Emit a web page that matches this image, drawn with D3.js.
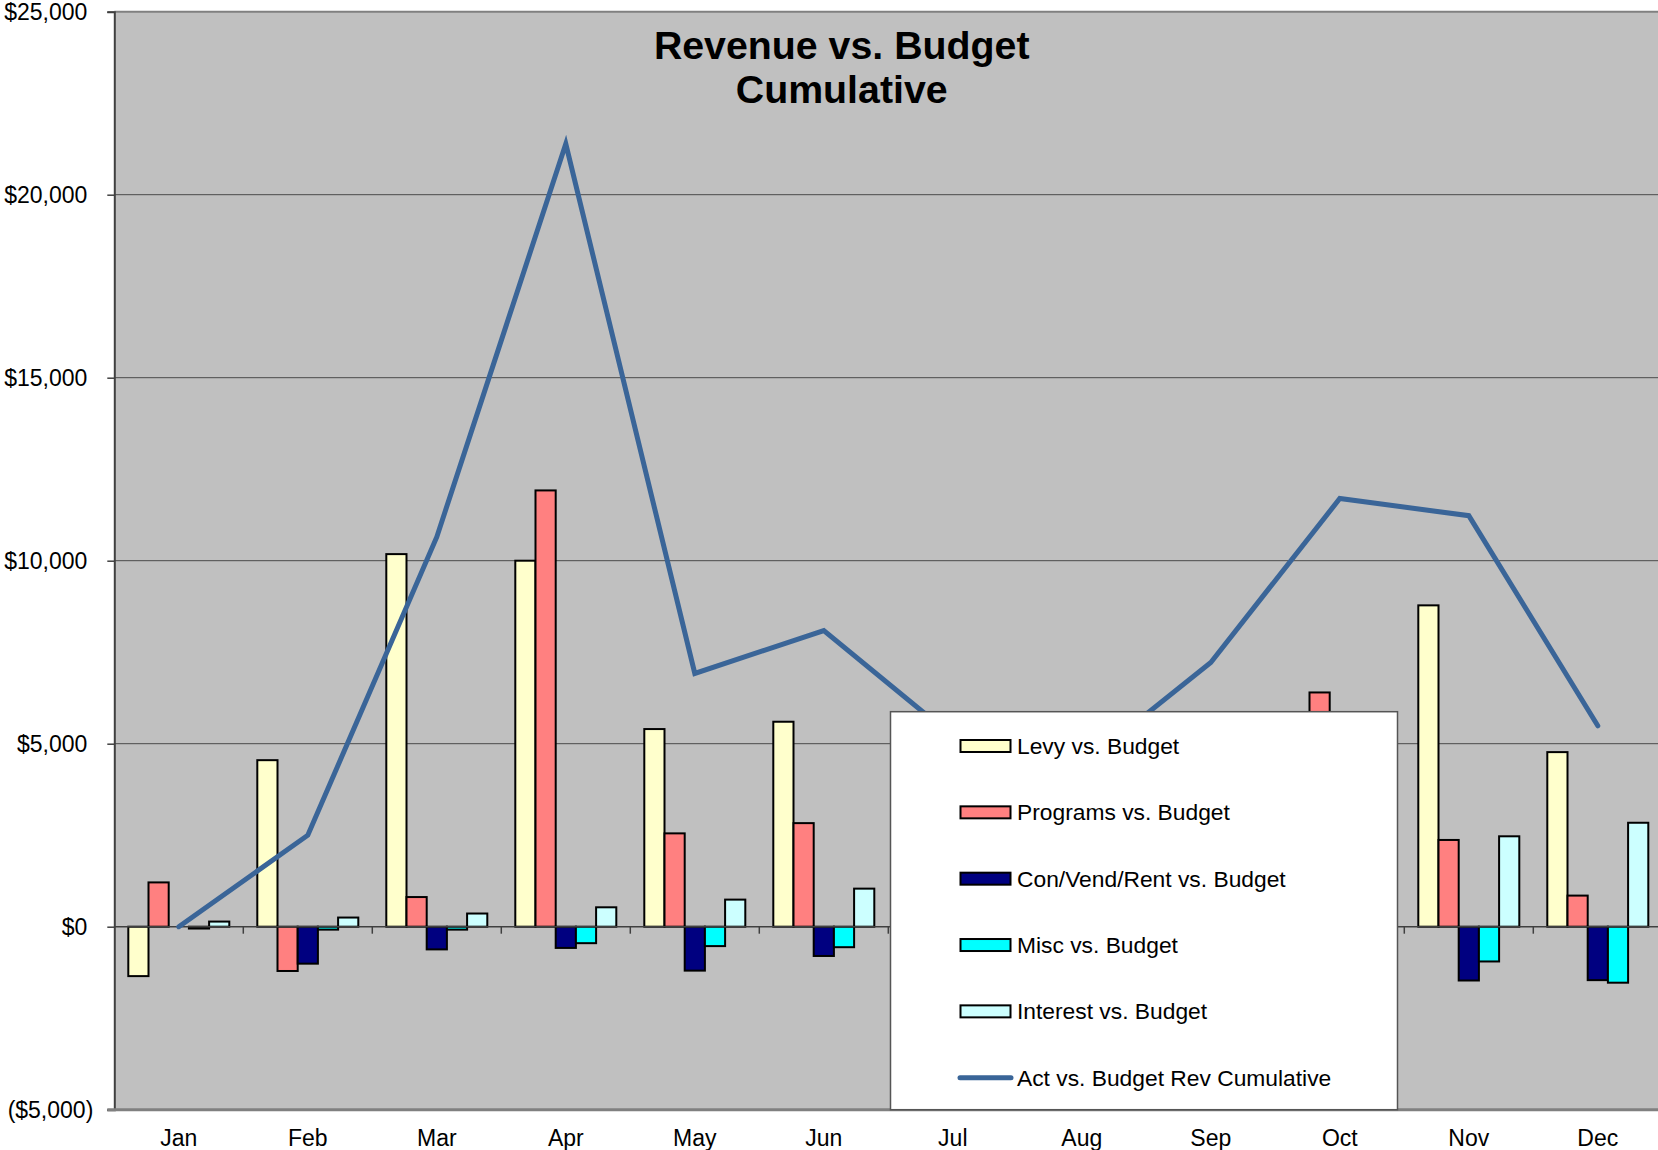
<!DOCTYPE html>
<html>
<head>
<meta charset="utf-8">
<script src="https://cdn.jsdelivr.net/npm/d3@7"></script>
<style>
  html, body { margin: 0; padding: 0; background: #ffffff; }
  svg { display: block; }
  text { font-family: "Liberation Sans", Arial, sans-serif; }
</style>
</head>
<body>
<svg id="chart" width="1658" height="1150"></svg>
<script>
// ---- data ----
const months = ["Jan","Feb","Mar","Apr","May","Jun","Jul","Aug","Sep","Oct","Nov","Dec"];
const seriesNames = ["Levy vs. Budget","Programs vs. Budget","Con/Vend/Rent vs. Budget","Misc vs. Budget","Interest vs. Budget"];
const levy      = [-1350, 4550, 10180, 10000, 5400, 5600, 4100, 2900, 3600, 5500, 8780, 4770];
const programs  = [ 1210,-1210,   810, 11920, 2550, 2830, 1500, 1900, 4000, 6400, 2370,  850];
const conVend   = [    0,-1010,  -620,  -580,-1200, -800, -900,-1000,-1100,-1200,-1470,-1460];
const misc      = [  -50,  -80,   -80,  -450, -530, -560, -600, -650, -700, -750, -950,-1530];
const interest  = [  140,  250,   360,   530,  740, 1040, 1100, 1250, 1420, 1750, 2470, 2840];
const cumulative= [    0, 2500, 10650, 21390, 6920, 8090, 5200, 4400, 7220, 11700, 11230, 5490];
const lineName = "Act vs. Budget Rev Cumulative";
const yTicks = [-5000, 0, 5000, 10000, 15000, 20000, 25000];
const title1 = "Revenue vs. Budget";
const title2 = "Cumulative";

const seriesValues = [levy, programs, conVend, misc, interest];
const colors = ["#FFFFCC", "#FF8080", "#000080", "#00FFFF", "#CCFFFF"];
const lineColor = "#3A6598";

// ---- layout ----
const svg = d3.select("#chart");
const plot = { left: 114.3, right: 1662.3, top: 11.7, bottom: 1109.7 };

const x0 = d3.scaleBand().domain(months).range([plot.left, plot.right]).padding(0);
const groupW = 101;
const x1 = d3.scaleBand().domain(d3.range(seriesNames.length)).range([0, groupW]).padding(0);
const y = d3.scaleLinear().domain([-5000, 25000]).range([plot.bottom, plot.top]);

// plot background
svg.append("rect")
  .attr("x", plot.left).attr("y", plot.top)
  .attr("width", plot.right - plot.left).attr("height", plot.bottom - plot.top)
  .attr("fill", "#C0C0C0");

// gridlines
svg.append("g").selectAll("line")
  .data(yTicks.filter(d => d !== -5000 && d !== 25000 && d !== 0))
  .join("line")
  .attr("x1", plot.left).attr("x2", plot.right)
  .attr("y1", d => y(d)).attr("y2", d => y(d))
  .attr("stroke", "#4a4a4a").attr("stroke-width", 1);

// top border
svg.append("line").attr("x1", plot.left).attr("x2", plot.right)
  .attr("y1", y(25000)).attr("y2", y(25000))
  .attr("stroke", "#808080").attr("stroke-width", 2);

// y axis
const yAxis = d3.axisLeft(y).tickValues(yTicks).tickSize(7).tickPadding(20)
  .tickFormat(d => d < 0 ? "($" + d3.format(",")(-d) + ")" : "$" + d3.format(",")(d));
const gy = svg.append("g").attr("transform", `translate(${plot.left},0)`).call(yAxis);
gy.select(".domain").attr("stroke", "#404040").attr("stroke-width", 2);
gy.selectAll(".tick line").attr("stroke", "#404040").attr("stroke-width", 1.5);
gy.selectAll(".tick text").attr("font-size", 23).attr("fill", "#000")
  .attr("font-family", "'Liberation Sans', Arial, sans-serif")
  .attr("dx", d => d < 0 ? 6 : 0);

// bars
const barG = svg.append("g");
months.forEach((m, i) => {
  const g = barG.append("g").attr("transform", `translate(${x0(m) + (x0.bandwidth() - groupW) / 2},0)`);
  g.selectAll("rect")
    .data(seriesValues.map((arr, s) => ({ s, v: arr[i] })))
    .join("rect")
    .attr("x", d => x1(d.s))
    .attr("width", x1.bandwidth())
    .attr("y", d => y(Math.max(0, d.v)))
    .attr("height", d => Math.abs(y(d.v) - y(0)))
    .attr("fill", d => colors[d.s])
    .attr("stroke", "#000")
    .attr("stroke-width", 2);
});

// zero axis line with category ticks
svg.append("line").attr("x1", plot.left).attr("x2", plot.right)
  .attr("y1", y(0)).attr("y2", y(0)).attr("stroke", "#404040").attr("stroke-width", 1.5);
svg.append("g").selectAll("line")
  .data(months.slice(1))
  .join("line")
  .attr("x1", d => x0(d)).attr("x2", d => x0(d))
  .attr("y1", y(0)).attr("y2", y(0) + 7)
  .attr("stroke", "#404040").attr("stroke-width", 1.5);

// bottom border
svg.append("line").attr("x1", plot.left - 7).attr("x2", plot.right)
  .attr("y1", y(-5000)).attr("y2", y(-5000))
  .attr("stroke", "#808080").attr("stroke-width", 3);

// month labels
svg.append("g").selectAll("text")
  .data(months)
  .join("text")
  .attr("x", d => x0(d) + x0.bandwidth() / 2)
  .attr("y", 1146)
  .attr("text-anchor", "middle")
  .attr("font-size", 23)
  .text(d => d);

// cumulative line
const line = d3.line()
  .x((d, i) => x0(months[i]) + x0.bandwidth() / 2)
  .y(d => y(d));
svg.append("path")
  .datum(cumulative)
  .attr("d", line)
  .attr("fill", "none")
  .attr("stroke", lineColor)
  .attr("stroke-width", 5)
  .attr("stroke-linejoin", "miter")
  .attr("stroke-linecap", "round");

// title
svg.append("text").attr("x", 841.7).attr("y", 59).attr("text-anchor", "middle")
  .attr("font-size", 39.3).attr("font-weight", "bold").text(title1);
svg.append("text").attr("x", 841.7).attr("y", 103).attr("text-anchor", "middle")
  .attr("font-size", 39.3).attr("font-weight", "bold").text(title2);

// legend
const leg = { x: 890.5, y: 711.7, w: 507, h: 398 };
const lg = svg.append("g");
lg.append("rect").attr("x", leg.x).attr("y", leg.y).attr("width", leg.w).attr("height", leg.h)
  .attr("fill", "#ffffff").attr("stroke", "#555555").attr("stroke-width", 1.5);
const legItems = seriesNames.map((n, i) => ({ name: n, type: "bar", color: colors[i] }))
  .concat([{ name: lineName, type: "line", color: lineColor }]);
const rowY = d3.scalePoint().domain(d3.range(legItems.length)).range([746, 1077.7]);
legItems.forEach((it, i) => {
  const cy = rowY(i);
  if (it.type === "bar") {
    lg.append("rect").attr("x", 960.5).attr("y", cy - 6).attr("width", 50).attr("height", 12)
      .attr("fill", it.color).attr("stroke", "#000").attr("stroke-width", 2);
  } else {
    lg.append("line").attr("x1", 960).attr("x2", 1011).attr("y1", cy).attr("y2", cy)
      .attr("stroke", it.color).attr("stroke-width", 5).attr("stroke-linecap", "round");
  }
  lg.append("text").attr("x", 1017).attr("y", cy + 8).attr("font-size", 22.8).text(it.name);
});
</script>
</body>
</html>
